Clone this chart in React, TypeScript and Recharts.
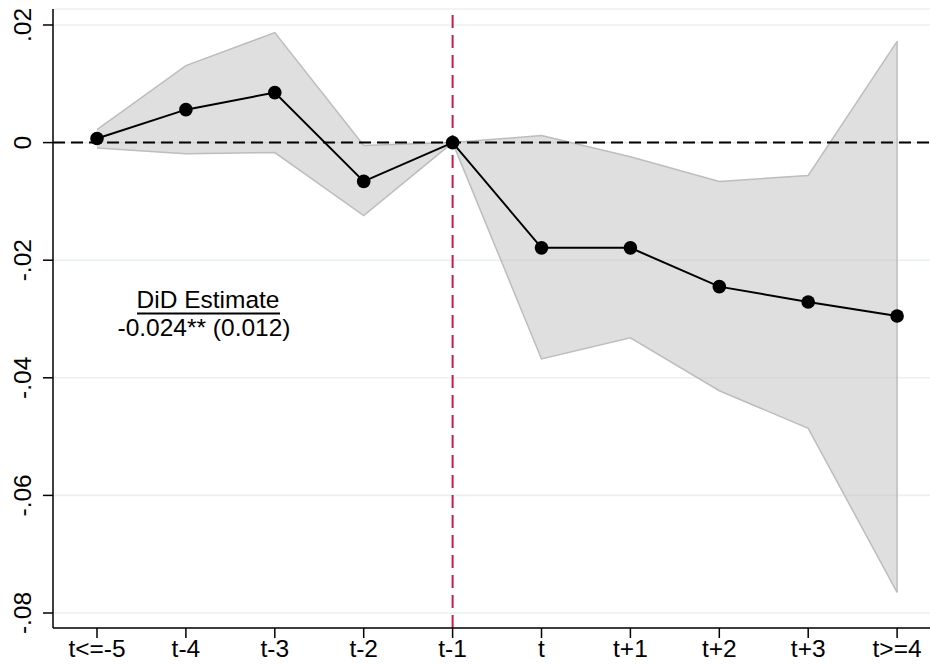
import React from "react";
import {
  ComposedChart,
  Area,
  Line,
  XAxis,
  YAxis,
  CartesianGrid,
  ReferenceLine,
} from "recharts";

// Event-time categories
const periods = ["t<=-5", "t-4", "t-3", "t-2", "t-1", "t", "t+1", "t+2", "t+3", "t>=4"];
// Point estimates
const estimates = [0.0007, 0.0056, 0.0085, -0.0066, 0, -0.0179, -0.0179, -0.0245, -0.0271, -0.0295];
// 95% confidence bounds
const upperCI = [0.0022, 0.0131, 0.0187, -0.0005, 0, 0.0012, -0.0024, -0.0066, -0.0056, 0.0172];
const lowerCI = [-0.0009, -0.0019, -0.0017, -0.0124, 0, -0.0368, -0.0332, -0.0422, -0.0486, -0.0765];
// Y-axis ticks and their labels
const yTicks = [-0.08, -0.06, -0.04, -0.02, 0, 0.02];
const yTickLabels = ["-.08", "-.06", "-.04", "-.02", "0", ".02"];
// Treatment reference period (index into periods)
const eventIndex = 4;
const didText = ["DiD Estimate", "-0.024** (0.012)"];

const data = periods.map((p, i) => ({
  idx: i,
  label: p,
  est: estimates[i],
  band: [lowerCI[i], upperCI[i]],
}));

const FONT = "'Liberation Sans', Arial, Helvetica, sans-serif";
const FS = 24.5;

const XTick = (props: any) => {
  const { x, y, payload } = props;
  return (
    <text x={x} y={y + 17} textAnchor="middle" fontSize={FS} fontFamily={FONT} fill="#000">
      {periods[payload.value]}
    </text>
  );
};

const YTick = (props: any) => {
  const { y, payload } = props;
  const i = yTicks.findIndex((t) => Math.abs(t - payload.value) < 1e-9);
  const bx = 31;
  return (
    <text
      x={bx}
      y={y}
      transform={`rotate(-90, ${bx}, ${y})`}
      textAnchor="middle"
      fontSize={FS}
      fontFamily={FONT}
      fill="#000"
    >
      {i >= 0 ? yTickLabels[i] : ""}
    </text>
  );
};

export default function App() {
  const last = periods.length - 1;
  return (
    <div style={{ position: "absolute", left: 0, top: 0, width: 930, height: 664, background: "#fff" }}>
      <ComposedChart
        width={930}
        height={664}
        data={data}
        margin={{ top: 9, right: 0, bottom: 0, left: 0 }}
      >
        <CartesianGrid vertical={false} stroke="#e9f0f4" strokeWidth={1.6} />
        <XAxis
          type="number"
          dataKey="idx"
          domain={[-0.495, 9.37]}
          ticks={periods.map((_, i) => i)}
          tick={<XTick />}
          tickSize={10}
          height={36}
          stroke="#000"
          strokeWidth={1.5}
          allowDataOverflow
        />
        <YAxis
          type="number"
          domain={[-0.08255, 0.02272]}
          ticks={yTicks}
          tick={<YTick />}
          tickSize={10}
          width={53}
          stroke="#000"
          strokeWidth={1.5}
          allowDataOverflow
        />
        <Area
          type="linear"
          dataKey="band"
          fill="#c4c4c4"
          fillOpacity={0.55}
          stroke="#bdbdbd"
          strokeWidth={1.5}
          isAnimationActive={false}
          dot={false}
          activeDot={false}
        />
        <ReferenceLine
          segment={[
            { x: last, y: lowerCI[last] },
            { x: last, y: upperCI[last] },
          ]}
          stroke="#bdbdbd"
          strokeWidth={1.5}
        />
        <ReferenceLine y={0} stroke="#000" strokeWidth={2} strokeDasharray="12 6" />
        <ReferenceLine x={eventIndex} stroke="#d0174a" strokeWidth={2} strokeDasharray="13 7" />
        <Line
          type="linear"
          dataKey="est"
          stroke="#000"
          strokeWidth={2}
          dot={{ r: 6.8, fill: "#000", stroke: "#000", strokeWidth: 0 }}
          activeDot={false}
          isAnimationActive={false}
        />
      </ComposedChart>
      <svg
        width={930}
        height={664}
        style={{ position: "absolute", left: 0, top: 0, pointerEvents: "none" }}
      >
        <text x={208} y={308} textAnchor="middle" fontSize={FS} fontFamily={FONT} fill="#000">
          {didText[0]}
        </text>
        <line x1={137} x2={280} y1={313.5} y2={313.5} stroke="#000" strokeWidth={2} />
        <text x={204} y={336} textAnchor="middle" fontSize={FS} fontFamily={FONT} fill="#000">
          {didText[1]}
        </text>
      </svg>
    </div>
  );
}
